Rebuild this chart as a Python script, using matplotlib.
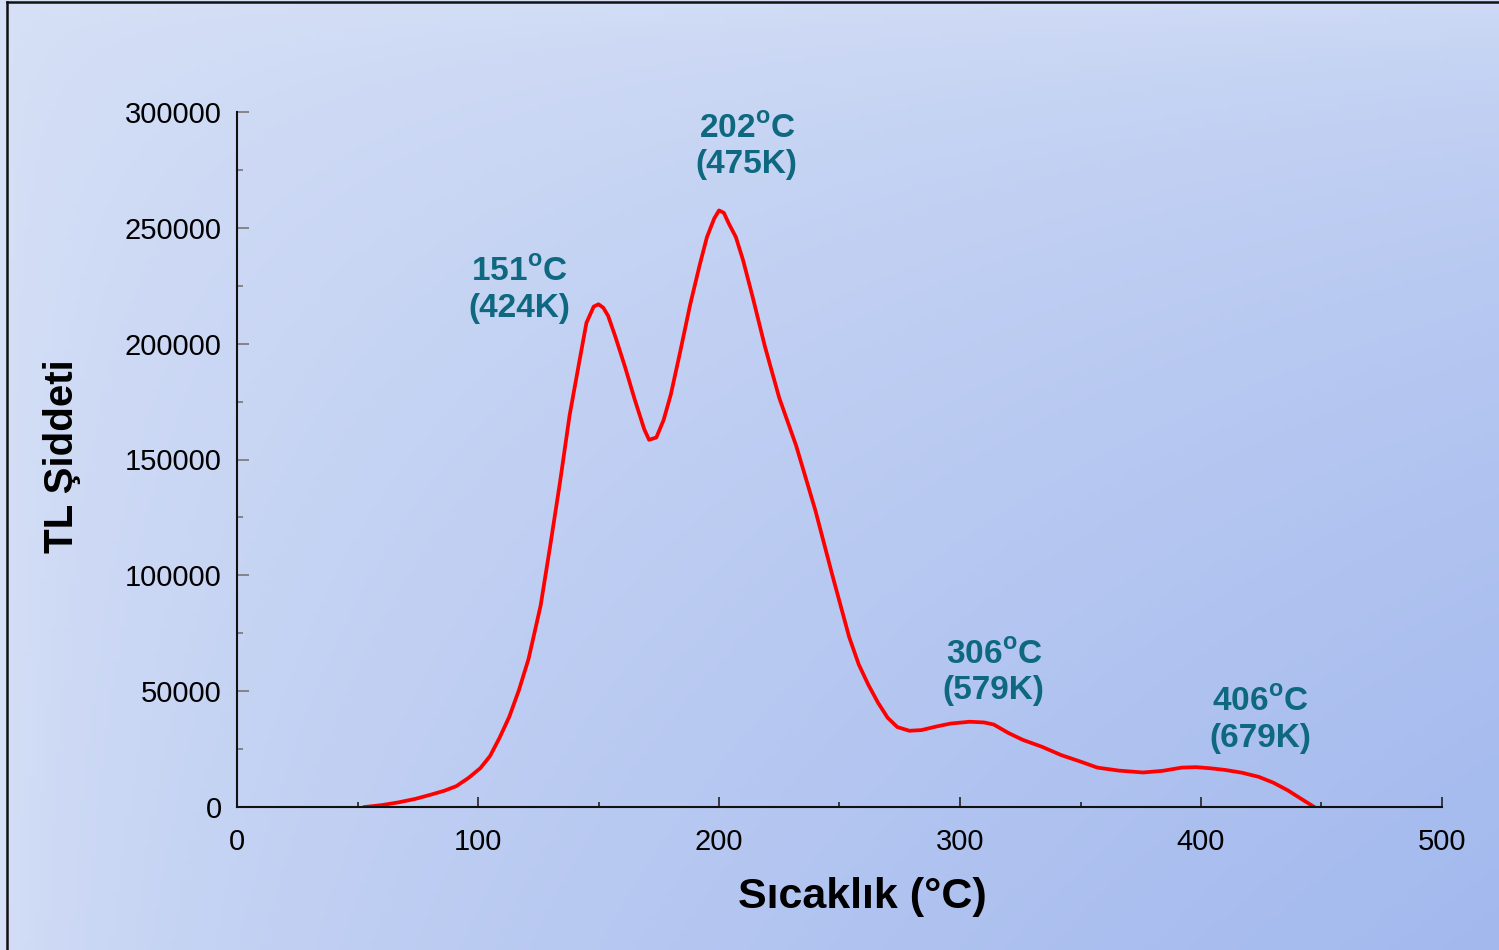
import matplotlib
matplotlib.use('Agg')
import matplotlib.pyplot as plt
from matplotlib.lines import Line2D
import numpy as np

# TL glow curve
sicaklik = [53, 60, 67, 74, 80, 86, 91, 96, 101, 105, 109, 113, 117, 121, 126, 130,
            134, 138, 142, 145, 148, 150, 152, 154, 157, 161, 165, 169, 171, 174, 177,
            180, 184, 188, 192, 195, 198, 200, 202, 204, 207, 210, 214, 219, 225, 232,
            240, 247, 254, 258, 262, 266, 270, 274, 279, 284, 290, 296, 304, 310, 314,
            320, 326, 334, 342, 350, 357, 366, 376, 384, 392, 398, 404, 410, 417, 424,
            430, 436, 441, 447]
siddet = [0, 800, 2000, 3500, 5200, 7000, 9000, 12500, 16800, 22000, 30000, 39000,
          50500, 64000, 87000, 113000, 140000, 169000, 192000, 209000, 216000, 217000,
          215500, 212000, 203000, 190000, 176000, 163000, 158500, 159500, 167000,
          178000, 197000, 216700, 234000, 246000, 254000, 257500, 256500, 252000,
          246000, 236000, 220000, 199000, 176600, 156000, 128000, 100200, 73400,
          61500, 52700, 45000, 38500, 34500, 32900, 33200, 34700, 36000, 36800, 36500,
          35600, 32000, 29000, 26000, 22400, 19600, 17000, 15700, 14900, 15600,
          17000, 17200, 16700, 16000, 14800, 13000, 10500, 7200, 3900, 0]

# peak labels and where they sit
etiket_x = [117, 211.5, 314, 424.5]
etiket_y = [223000, 285000, 58000, 37500]
tepe_c = ["151", "202", "306", "406"]
tepe_k = ["(424K)", "(475K)", "(579K)", "(679K)"]

plt.rcParams['font.family'] = ['Liberation Sans', 'DejaVu Sans']
plt.rcParams['mathtext.fontset'] = 'custom'
plt.rcParams['mathtext.rm'] = 'Liberation Sans'
plt.rcParams['mathtext.bf'] = 'Liberation Sans:bold'

W, H = 1499, 950
fig = plt.figure(figsize=(W / 100, H / 100), dpi=100)

# background gradient, darkest toward bottom right
bg = fig.add_axes([0, 0, 1, 1], zorder=-10)
u, v = np.meshgrid(np.linspace(0, 1, 300), np.linspace(0, 1, 200))
d = 0.1 * u + 0.9 * np.sqrt(u * v)
light = np.array([214, 224, 246]) / 255
dark = np.array([163, 185, 238]) / 255
img = light + d[..., None] * (dark - light)
bg.imshow(img, aspect='auto', extent=[0, 1, 0, 1], origin='upper')
bg.axis('off')

# slide frame
fig.add_artist(Line2D([7 / W, 7 / W], [0, 1 - 2 / H], color='#111111', lw=1.8))
fig.add_artist(Line2D([7 / W, 1], [1 - 2 / H, 1 - 2 / H], color='#111111', lw=1.8))

ax = fig.add_axes([237 / W, 1 - 807 / H, (1442 - 237) / W, (807 - 112) / H])
ax.patch.set_alpha(0)
ax.plot(sicaklik, siddet, color='#ff0000', lw=2.7, solid_joinstyle='round')

ax.set_xlim(0, 500)
ax.set_ylim(0, 300000)
ax.spines['top'].set_visible(False)
ax.spines['right'].set_visible(False)
for s in ['left', 'bottom']:
    ax.spines[s].set_linewidth(1.5)
    ax.spines[s].set_color('#111111')

ax.set_xticks(np.arange(0, 501, 100))
ax.set_xticks(np.arange(50, 500, 100), minor=True)
ax.set_yticks(np.arange(0, 300001, 50000))
ax.set_yticks(np.arange(25000, 300000, 50000), minor=True)
ax.set_yticklabels([str(t) for t in range(0, 300001, 50000)])
ax.tick_params(axis='x', which='major', direction='in', length=7, width=1.2,
               color='#222222', labelsize=21, pad=15)
ax.tick_params(axis='x', which='minor', direction='in', length=3.5, width=1.2,
               color='#222222')
ax.tick_params(axis='y', which='major', direction='in', length=8.5, width=1.2,
               color='#777777', labelsize=21, pad=11)
ax.tick_params(axis='y', which='minor', direction='in', length=4.3, width=1.2,
               color='#777777')

fig.text(862 / W, 1 - 897 / H, "Sıcaklık (°C)", fontsize=31, fontweight='bold',
         ha='center', va='center')
fig.text(62 / W, 1 - 456 / H, "TL Şiddeti", fontsize=29, fontweight='bold',
         rotation=90, ha='center', va='center')

teal = '#0e6880'
for x, y, c, k in zip(etiket_x, etiket_y, tepe_c, tepe_k):
    ax.text(x, y, c + r"$^{\mathbf{o}}$C" + "\n" + k, ha='center', va='center',
            fontsize=24, fontweight='bold', color=teal, linespacing=1.2)

fig.savefig('out.png', dpi=100)
